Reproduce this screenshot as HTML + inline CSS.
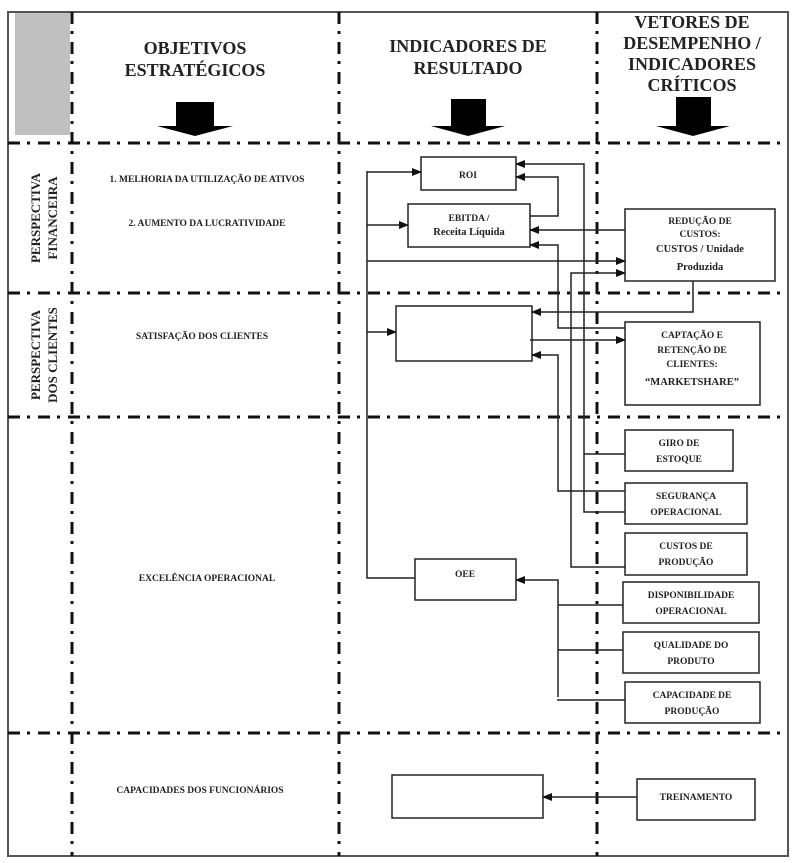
<!DOCTYPE html>
<html><head><meta charset="utf-8"><style>
html,body{margin:0;padding:0;background:#fff;}
svg{display:block;}
text{font-family:"Liberation Serif",serif;fill:#222;}
.h{font-size:18px;font-weight:bold;}
.s{font-size:9.5px;font-weight:bold;}
</style></head><body>
<svg width="797" height="863" viewBox="0 0 797 863" xmlns="http://www.w3.org/2000/svg">
<defs><marker id="a" markerWidth="10" markerHeight="8" refX="9" refY="4" orient="auto" markerUnits="userSpaceOnUse"><path d="M0,0 L10,4 L0,8 Z" fill="#111"/></marker></defs>
<rect x="8" y="12" width="780" height="844" fill="none" stroke="#555" stroke-width="2"/>
<rect x="15" y="13" width="55" height="122" fill="#c0c0c0"/>
<g stroke="#111" stroke-width="3" fill="none" stroke-dasharray="12 7 3 8">
<line x1="72" y1="12" x2="72" y2="856"/>
<line x1="339" y1="12" x2="339" y2="856"/>
<line x1="597" y1="12" x2="597" y2="856"/>
<line x1="8" y1="143" x2="788" y2="143"/>
<line x1="8" y1="293" x2="788" y2="293"/>
<line x1="8" y1="417" x2="788" y2="417"/>
<line x1="8" y1="733" x2="788" y2="733"/>
</g>
<text class="h" x="195" y="54" text-anchor="middle">OBJETIVOS</text>
<text class="h" x="195" y="76" text-anchor="middle">ESTRATÉGICOS</text>
<text class="h" x="468" y="52" text-anchor="middle">INDICADORES DE</text>
<text class="h" x="468" y="74" text-anchor="middle">RESULTADO</text>
<text class="h" x="692" y="28" text-anchor="middle">VETORES DE</text>
<text class="h" x="692" y="49" text-anchor="middle">DESEMPENHO /</text>
<text class="h" x="692" y="70" text-anchor="middle">INDICADORES</text>
<text class="h" x="692" y="91" text-anchor="middle">CRÍTICOS</text>
<g fill="#000">
<path d="M176,102 h38 v24 h19 l-38,10 l-38,-10 h19 z"/>
<path d="M451,99 h35 v27 h19 l-37,10 l-37,-10 h20 z"/>
<path d="M676,97 h35 v29 h19 l-37,10 l-37,-10 h20 z"/>
</g>
<text class="h" style="font-size:13px" transform="translate(40,218) rotate(-90)" text-anchor="middle">PERSPECTIVA</text>
<text class="h" style="font-size:13px" transform="translate(57,218) rotate(-90)" text-anchor="middle">FINANCEIRA</text>
<text class="h" style="font-size:13px" transform="translate(40,355) rotate(-90)" text-anchor="middle">PERSPECTIVA</text>
<text class="h" style="font-size:13px" transform="translate(57,355) rotate(-90)" text-anchor="middle">DOS CLIENTES</text>
<text class="s" x="207" y="182" text-anchor="middle">1. MELHORIA DA UTILIZAÇÃO DE ATIVOS</text>
<text class="s" x="207" y="226" text-anchor="middle">2. AUMENTO DA LUCRATIVIDADE</text>
<text class="s" x="202" y="339" text-anchor="middle">SATISFAÇÃO DOS CLIENTES</text>
<text class="s" x="207" y="581" text-anchor="middle">EXCELÊNCIA OPERACIONAL</text>
<text class="s" x="200" y="793" text-anchor="middle">CAPACIDADES DOS FUNCIONÁRIOS</text>
<g fill="#fff" stroke="#222" stroke-width="1.5">
<rect x="421" y="157" width="95" height="33"/>
<rect x="408" y="204" width="122" height="43"/>
<rect x="396" y="306" width="136" height="55"/>
<rect x="415" y="559" width="101" height="41"/>
<rect x="392" y="775" width="151" height="43"/>
<rect x="625" y="209" width="150" height="72"/>
<rect x="625" y="322" width="135" height="83"/>
<rect x="625" y="430" width="108" height="41"/>
<rect x="625" y="483" width="122" height="41"/>
<rect x="625" y="533" width="122" height="42"/>
<rect x="623" y="582" width="136" height="41"/>
<rect x="623" y="632" width="136" height="41"/>
<rect x="625" y="682" width="135" height="41"/>
<rect x="637" y="779" width="118" height="41"/>
</g>
<text class="s" x="468" y="178" text-anchor="middle">ROI</text>
<text class="s" x="469" y="221" text-anchor="middle">EBITDA /</text>
<text class="s" x="469" y="235" text-anchor="middle" style="font-size:10.5px">Receita Líquida</text>
<text class="s" x="465" y="577" text-anchor="middle">OEE</text>
<text class="s" x="700" y="224" text-anchor="middle">REDUÇÃO DE</text>
<text class="s" x="700" y="237" text-anchor="middle">CUSTOS:</text>
<text class="s" x="700" y="252" text-anchor="middle" style="font-size:10.5px">CUSTOS / Unidade</text>
<text class="s" x="700" y="270" text-anchor="middle" style="font-size:10.5px">Produzida</text>
<text class="s" x="692" y="338" text-anchor="middle">CAPTAÇÃO E</text>
<text class="s" x="692" y="353" text-anchor="middle">RETENÇÃO DE</text>
<text class="s" x="692" y="367" text-anchor="middle">CLIENTES:</text>
<text class="s" x="692" y="385" text-anchor="middle" style="font-size:10.5px">“MARKETSHARE”</text>
<text class="s" x="679" y="446" text-anchor="middle">GIRO DE</text>
<text class="s" x="679" y="462" text-anchor="middle">ESTOQUE</text>
<text class="s" x="686" y="499" text-anchor="middle">SEGURANÇA</text>
<text class="s" x="686" y="515" text-anchor="middle">OPERACIONAL</text>
<text class="s" x="686" y="549" text-anchor="middle">CUSTOS DE</text>
<text class="s" x="686" y="565" text-anchor="middle">PRODUÇÃO</text>
<text class="s" x="691" y="598" text-anchor="middle">DISPONIBILIDADE</text>
<text class="s" x="691" y="614" text-anchor="middle">OPERACIONAL</text>
<text class="s" x="691" y="648" text-anchor="middle">QUALIDADE DO</text>
<text class="s" x="691" y="664" text-anchor="middle">PRODUTO</text>
<text class="s" x="692" y="698" text-anchor="middle">CAPACIDADE DE</text>
<text class="s" x="692" y="714" text-anchor="middle">PRODUÇÃO</text>
<text class="s" x="696" y="800" text-anchor="middle">TREINAMENTO</text>
<g stroke="#222" stroke-width="1.5" fill="none">
<polyline points="415,578 367,578 367,171"/>
<line x1="367" y1="172" x2="421" y2="172" marker-end="url(#a)"/>
<line x1="367" y1="225" x2="408" y2="225" marker-end="url(#a)"/>
<line x1="367" y1="261" x2="625" y2="261" marker-end="url(#a)"/>
<line x1="367" y1="332" x2="396" y2="332" marker-end="url(#a)"/>
<polyline points="625,454 584,454"/>
<polyline points="625,512 584,512 584,164 516,164" marker-end="url(#a)"/>
<polyline points="530,216 558,216 558,177 516,177" marker-end="url(#a)"/>
<line x1="625" y1="230" x2="530" y2="230" marker-end="url(#a)"/>
<polyline points="625,328 558,328 558,245 530,245" marker-end="url(#a)"/>
<polyline points="625,491 558,491 558,355 532,355" marker-end="url(#a)"/>
<polyline points="625,567 571,567 571,273 625,273" marker-end="url(#a)"/>
<polyline points="693,281 693,312 532,312" marker-end="url(#a)"/>
<line x1="530" y1="340" x2="625" y2="340" marker-end="url(#a)"/>
<polyline points="558,697 558,580 516,580" marker-end="url(#a)"/>
<line x1="558" y1="605" x2="623" y2="605"/>
<line x1="558" y1="650" x2="623" y2="650"/>
<line x1="557" y1="700" x2="625" y2="700"/>
<line x1="637" y1="797" x2="543" y2="797" marker-end="url(#a)"/>
</g>
</svg>
</body></html>
